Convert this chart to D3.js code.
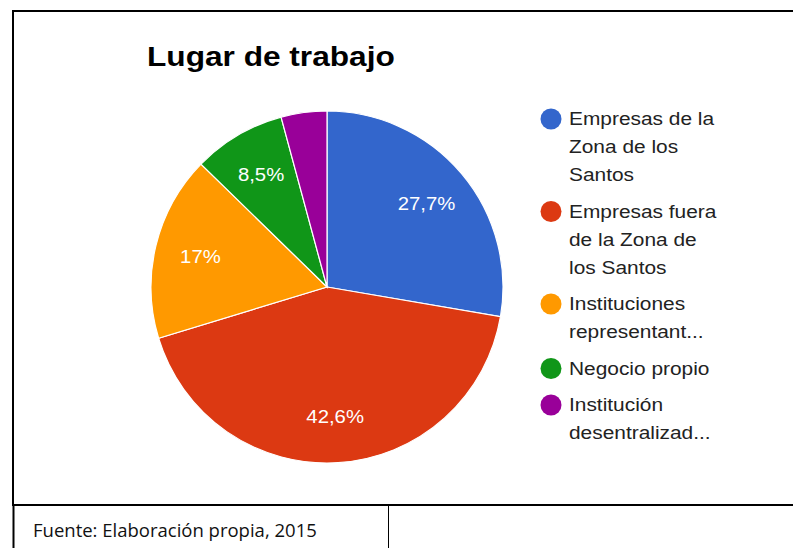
<!DOCTYPE html>
<html lang="es">
<head>
<meta charset="utf-8">
<title>Lugar de trabajo</title>
<script src="https://cdn.jsdelivr.net/npm/d3@7"></script>
<style>
  html, body { margin: 0; padding: 0; background: #fff; }
  svg { display: block; }
</style>
</head>
<body>
<svg id="chart" width="793" height="548"></svg>
<script>
// data
var categories = [
  "Empresas de la Zona de los Santos",
  "Empresas fuera de la Zona de los Santos",
  "Instituciones representantes",
  "Negocio propio",
  "Institución desentralizada"
];
var values = [27.7, 42.6, 17.0, 8.5, 4.2];
var legendLines = [
  ["Empresas de la", "Zona de los", "Santos"],
  ["Empresas fuera", "de la Zona de", "los Santos"],
  ["Instituciones", "representant..."],
  ["Negocio propio"],
  ["Institución", "desentralizad..."]
];
var colors = ["#3366cc", "#dc3912", "#ff9900", "#109618", "#990099"];
var title = "Lugar de trabajo";
var source = "Fuente: Elaboración propia, 2015";

var svg = d3.select("#chart");
var font = "'Liberation Sans', Arial, sans-serif";
var stretch = 1.13; // text in the picture is a bit wider than Arial

// frame of the chart and the source cell below it
svg.append("rect")
    .attr("x", 13).attr("y", 11)
    .attr("width", 800).attr("height", 494)
    .attr("fill", "none").attr("stroke", "#000").attr("stroke-width", 2);
svg.append("line")
    .attr("x1", 13.5).attr("x2", 13.5).attr("y1", 505).attr("y2", 548)
    .attr("stroke", "#000").attr("stroke-width", 2);
svg.append("line")
    .attr("x1", 388.5).attr("x2", 388.5).attr("y1", 506).attr("y2", 548)
    .attr("stroke", "#000").attr("stroke-width", 1);
svg.append("text")
    .attr("x", 33).attr("y", 537)
    .style("font-family", "'Open Sans', sans-serif")
    .style("font-size", "18.5px")
    .attr("fill", "#111")
    .text(source);

// title
svg.append("text")
    .attr("transform", "translate(147,66) scale(" + stretch + ",1)")
    .style("font-family", font)
    .style("font-size", "28px")
    .style("font-weight", "bold")
    .attr("fill", "#000")
    .text(title);

// pie
var cx = 327, cy = 287, radius = 176;
var data = categories.map(function(c, i) { return {name: c, value: values[i], color: colors[i]}; });

var pie = d3.pie().sort(null).value(function(d) { return d.value; });
var arc = d3.arc().innerRadius(0).outerRadius(radius);
var labelArc = d3.arc().innerRadius(radius * 0.74).outerRadius(radius * 0.74);

var g = svg.append("g").attr("transform", "translate(" + cx + "," + cy + ")");
var arcs = pie(data);

g.selectAll("path.slice")
  .data(arcs)
  .enter().append("path")
    .attr("class", "slice")
    .attr("d", arc)
    .attr("fill", function(d) { return d.data.color; })
    .attr("stroke", "#fff")
    .attr("stroke-width", 1.2);

function pct(v) {
  var s = (v % 1 === 0) ? d3.format("d")(v) : d3.format(".1f")(v);
  return s.replace(".", ",") + "%";
}

g.selectAll("text.lbl")
  .data(arcs.filter(function(d) { return d.data.value >= 5; }))
  .enter().append("text")
    .attr("class", "lbl")
    .attr("transform", function(d) {
      var p = labelArc.centroid(d);
      return "translate(" + p[0] + "," + (p[1] + 6.5) + ") scale(" + stretch + ",1)";
    })
    .attr("text-anchor", "middle")
    .style("font-family", font)
    .style("font-size", "18px")
    .attr("fill", "#fff")
    .text(function(d) { return pct(d.data.value); });

// legend
var lineH = 28, gap = 8.5;
var y = 125;
legendLines.forEach(function(lines, i) {
  var item = svg.append("g");
  item.append("circle")
      .attr("cx", 551).attr("cy", y - 6).attr("r", 10.5)
      .attr("fill", colors[i]);
  lines.forEach(function(t, j) {
    item.append("text")
        .attr("transform", "translate(569," + (y + j * lineH) + ") scale(" + stretch + ",1)")
        .style("font-family", font)
        .style("font-size", "18.5px")
        .attr("fill", "#222")
        .text(t);
  });
  y += lines.length * lineH + gap;
});
</script>
</body>
</html>
